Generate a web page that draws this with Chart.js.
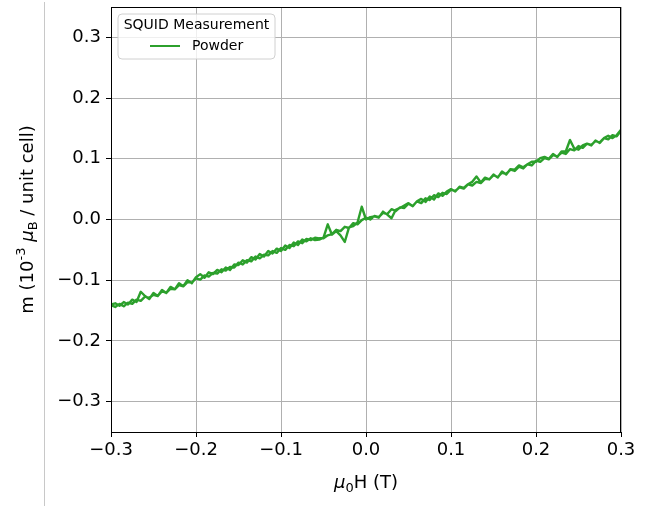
<!DOCTYPE html>
<html>
<head>
<meta charset="utf-8">
<script src="https://cdn.jsdelivr.net/npm/chart.js@4/dist/chart.umd.min.js"></script>
<style>
  html, body { margin: 0; padding: 0; background: #ffffff; }
  #wrap { position: relative; width: 657px; height: 508px; }
  #sep { position: absolute; left: 44px; top: 2px; width: 1px; height: 504px; background: #c8c8c8; }
</style>
</head>
<body>
<div id="wrap">
  <canvas id="c" width="657" height="508"></canvas>
  <div id="sep"></div>
</div>
<script>
// ---- data ----
const legendTitle = "SQUID Measurement";
const seriesLabel = "Powder";
const xTicks = [-0.3, -0.2, -0.1, 0.0, 0.1, 0.2, 0.3];
const yTicks = [-0.3, -0.2, -0.1, 0.0, 0.1, 0.2, 0.3];

const field = [
-0.300,-0.295,-0.290,-0.285,-0.280,-0.275,-0.270,-0.265,-0.260,-0.255,
-0.250,-0.245,-0.240,-0.235,-0.230,-0.225,-0.220,-0.215,-0.210,-0.205,
-0.200,-0.195,-0.190,-0.185,-0.180,-0.175,-0.170,-0.165,-0.160,-0.155,
-0.150,-0.145,-0.140,-0.135,-0.130,-0.125,-0.120,-0.115,-0.110,-0.105,
-0.100,-0.095,-0.090,-0.085,-0.080,-0.075,-0.070,-0.065,-0.060,-0.055,
-0.050,-0.045,-0.040,-0.035,-0.030,-0.025,-0.020,-0.015,-0.010,-0.005,
 0.000, 0.005, 0.010, 0.015, 0.020, 0.025, 0.030, 0.035, 0.040, 0.045,
 0.050, 0.055, 0.060, 0.065, 0.070, 0.075, 0.080, 0.085, 0.090, 0.095,
 0.100, 0.105, 0.110, 0.115, 0.120, 0.125, 0.130, 0.135, 0.140, 0.145,
 0.150, 0.155, 0.160, 0.165, 0.170, 0.175, 0.180, 0.185, 0.190, 0.195,
 0.200, 0.205, 0.210, 0.215, 0.220, 0.225, 0.230, 0.235, 0.240, 0.245,
 0.250, 0.255, 0.260, 0.265, 0.270, 0.275, 0.280, 0.285, 0.290, 0.295,
 0.300];

// sweep up (-0.3 -> 0.3), listed by ascending field
const mUp = [
-0.141,-0.144,-0.139,-0.143,-0.137,-0.139,-0.132,-0.134,-0.127,-0.129,
-0.124,-0.126,-0.118,-0.121,-0.114,-0.115,-0.108,-0.110,-0.103,-0.104,
-0.097,-0.099,-0.092,-0.094,-0.088,-0.089,-0.082,-0.084,-0.078,-0.079,
-0.071,-0.074,-0.067,-0.069,-0.061,-0.064,-0.058,-0.059,-0.052,-0.055,
-0.047,-0.050,-0.042,-0.044,-0.036,-0.039,-0.032,-0.034,-0.030,-0.031,
-0.031,-0.026,-0.024,-0.017,-0.019,-0.012,-0.014,-0.006,-0.008,-0.001,
 0.003, 0.000, 0.006, 0.004, 0.011, 0.009, 0.017, 0.014, 0.020, 0.019,
 0.026, 0.022, 0.030, 0.027, 0.035, 0.032, 0.040, 0.037, 0.044, 0.042,
 0.049, 0.047, 0.053, 0.051, 0.058, 0.056, 0.062, 0.060, 0.067, 0.066,
 0.073, 0.070, 0.077, 0.075, 0.082, 0.080, 0.087, 0.084, 0.091, 0.089,
 0.097, 0.095, 0.101, 0.099, 0.106, 0.104, 0.110, 0.108, 0.116, 0.114,
 0.121, 0.118, 0.125, 0.123, 0.129, 0.127, 0.134, 0.132, 0.139, 0.137,
 0.146];

// sweep down (0.3 -> -0.3), listed by ascending field
const mDown = [
-0.140,-0.138,-0.142,-0.136,-0.140,-0.132,-0.136,-0.119,-0.126,-0.131,
-0.121,-0.126,-0.116,-0.121,-0.111,-0.115,-0.105,-0.110,-0.100,-0.105,
-0.095,-0.090,-0.096,-0.087,-0.090,-0.083,-0.087,-0.079,-0.083,-0.074,
-0.075,-0.067,-0.071,-0.062,-0.066,-0.057,-0.061,-0.052,-0.056,-0.048,
-0.052,-0.043,-0.047,-0.038,-0.042,-0.033,-0.036,-0.031,-0.034,-0.033,
-0.030,-0.008,-0.025,-0.019,-0.026,-0.037,-0.013,-0.011,-0.005, 0.021,
 0.000, 0.004, 0.005, 0.003, 0.013, 0.008, 0.002, 0.016, 0.019, 0.023,
 0.027, 0.022, 0.030, 0.034, 0.029, 0.038, 0.033, 0.043, 0.039, 0.046,
 0.050, 0.046, 0.054, 0.052, 0.058, 0.062, 0.071, 0.061, 0.069, 0.066,
 0.074, 0.069, 0.079, 0.074, 0.083, 0.082, 0.089, 0.086, 0.091, 0.095,
 0.095, 0.101, 0.103, 0.100, 0.108, 0.103, 0.112, 0.112, 0.131, 0.117,
 0.115, 0.122, 0.125, 0.122, 0.130, 0.126, 0.134, 0.138, 0.134, 0.139,
 0.148];

// ---- build points: down sweep then up sweep ----
const pts = [];
for (let i = field.length - 1; i >= 0; i--) pts.push({x: field[i], y: mDown[i]});
for (let i = 0; i < field.length; i++) pts.push({x: field[i], y: mUp[i]});

const FONT = '"DejaVu Sans", "Liberation Sans", sans-serif';
const fmt = v => { const s = Number(v).toFixed(1); return s.startsWith('-') ? '\u2212' + s.slice(1) : s; };

function drawRich(ctx, pieces, cx, cy, rot) {
  ctx.save();
  ctx.translate(cx, cy);
  if (rot) ctx.rotate(rot);
  let total = 0;
  for (const p of pieces) { ctx.font = p.font; p.w = ctx.measureText(p.t).width; total += p.w; }
  let x = -total / 2;
  ctx.fillStyle = '#000';
  ctx.textBaseline = 'alphabetic';
  ctx.textAlign = 'left';
  for (const p of pieces) {
    ctx.font = p.font;
    ctx.fillText(p.t, x, 7 + (p.dy || 0));
    x += p.w;
  }
  ctx.restore();
}

const extras = {
  id: 'extras',
  afterDraw(chart) {
    const ctx = chart.ctx, a = chart.chartArea;
    // frame
    ctx.save();
    ctx.strokeStyle = '#000';
    ctx.lineWidth = 1;
    ctx.strokeRect(Math.round(a.left) + 0.5, Math.round(a.top) + 0.5, Math.round(a.right - a.left) - 1, Math.round(a.bottom - a.top));
    ctx.restore();

    // legend box
    const lx = 118, ly = 14, lw = 157, lh = 45, r = 4;
    ctx.save();
    ctx.beginPath();
    ctx.moveTo(lx + r, ly);
    ctx.arcTo(lx + lw, ly, lx + lw, ly + lh, r);
    ctx.arcTo(lx + lw, ly + lh, lx, ly + lh, r);
    ctx.arcTo(lx, ly + lh, lx, ly, r);
    ctx.arcTo(lx, ly, lx + lw, ly, r);
    ctx.closePath();
    ctx.fillStyle = 'rgba(255,255,255,0.8)';
    ctx.fill();
    ctx.strokeStyle = '#d0d0d0';
    ctx.lineWidth = 1;
    ctx.stroke();
    ctx.fillStyle = '#000';
    ctx.font = '14px ' + FONT;
    ctx.textBaseline = 'middle';
    ctx.textAlign = 'center';
    ctx.fillText(legendTitle, lx + lw / 2, 25);
    const ds = chart.data.datasets[0];
    ctx.strokeStyle = ds.borderColor;
    ctx.lineWidth = 2;
    ctx.beginPath();
    ctx.moveTo(150, 46); ctx.lineTo(180, 46);
    ctx.stroke();
    ctx.textAlign = 'left';
    ctx.fillText(ds.label, 192, 46);
    ctx.restore();

    // axis titles
    const base = '18px ' + FONT, ital = 'italic 18px ' + FONT, small = '13px ' + FONT;
    drawRich(ctx, [
      {t: '\u03bc', font: ital},
      {t: '0', font: small, dy: 4},
      {t: 'H (T)', font: base}
    ], (a.left + a.right) / 2, 481, 0);
    drawRich(ctx, [
      {t: 'm (10', font: base},
      {t: '-3', font: small, dy: -8},
      {t: ' ', font: base},
      {t: '\u03bc', font: ital},
      {t: 'B', font: small, dy: 4},
      {t: ' / unit cell)', font: base}
    ], 26, (a.top + a.bottom) / 2, -Math.PI / 2);
  }
};

new Chart(document.getElementById('c'), {
  type: 'scatter',
  data: {
    datasets: [{
      label: seriesLabel,
      data: pts,
      showLine: true,
      borderColor: '#2ca02c',
      backgroundColor: '#2ca02c',
      borderWidth: 2.4,
      borderJoinStyle: 'round',
      pointRadius: 0,
      tension: 0
    }]
  },
  options: {
    responsive: false,
    animation: false,
    events: [],
    layout: { padding: { left: 0, right: 36, top: 7, bottom: 0 } },
    plugins: { legend: { display: false }, tooltip: { enabled: false } },
    scales: {
      x: {
        type: 'linear', min: -0.3, max: 0.3,
        afterBuildTicks: s => { s.ticks = xTicks.map(v => ({value: v})); },
        afterFit: s => { s.height = 76; s.paddingLeft = 0; s.paddingRight = 0; },
        grid: { color: '#b0b0b0', lineWidth: 1, tickColor: '#000', tickLength: 5, drawOnChartArea: true },
        border: { color: '#000', width: 1 },
        ticks: { color: '#000', font: { family: FONT, size: 18 }, padding: 3, maxRotation: 0, callback: v => fmt(v) }
      },
      y: {
        type: 'linear', min: -0.35, max: 0.35,
        afterBuildTicks: s => { s.ticks = yTicks.map(v => ({value: v})); },
        afterFit: s => { s.width = 111; s.paddingTop = 0; s.paddingBottom = 0; },
        grid: { color: '#b0b0b0', lineWidth: 1, tickColor: '#000', tickLength: 5 },
        border: { color: '#000', width: 1 },
        ticks: { color: '#000', font: { family: FONT, size: 18 }, padding: 5, callback: v => fmt(v) }
      }
    }
  },
  plugins: [extras]
});
</script>
</body>
</html>
